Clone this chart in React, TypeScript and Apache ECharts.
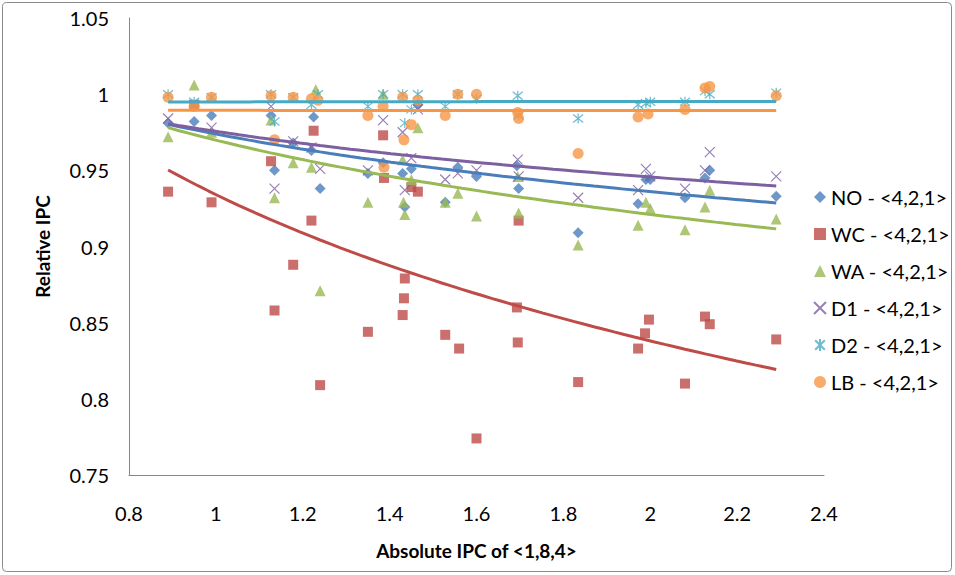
import React, { useEffect, useRef } from "react";
import * as echarts from "echarts";

const FONT = "Lato, 'Open Sans', sans-serif";

const seriesNames = [
  "NO - <4,2,1>",
  "WC - <4,2,1>",
  "WA - <4,2,1>",
  "D1 - <4,2,1>",
  "D2 - <4,2,1>",
  "LB - <4,2,1>",
];
const seriesColors = ["#4A7EBB", "#BE4B48", "#98B954", "#7D60A0", "#46AAC5", "#F79646"];

const noPoints: [number, number][] = [
  [0.89, 0.981], [0.95, 0.982], [0.99, 0.986], [1.127, 0.986], [1.135, 0.95], [1.178, 0.968],
  [1.22, 0.963], [1.225, 0.985], [1.24, 0.938], [1.35, 0.948], [1.385, 0.955], [1.43, 0.948],
  [1.435, 0.926], [1.45, 0.951], [1.465, 0.993], [1.528, 0.929], [1.557, 0.952], [1.6, 0.946],
  [1.693, 0.953], [1.697, 0.938], [1.834, 0.909], [1.972, 0.928], [1.99, 0.944], [2.0, 0.944],
  [2.08, 0.932], [2.126, 0.945], [2.137, 0.95], [2.29, 0.933],
];
const wcPoints: [number, number][] = [
  [0.89, 0.936], [0.95, 0.993], [0.99, 0.929], [1.127, 0.956], [1.135, 0.858], [1.178, 0.888],
  [1.22, 0.917], [1.225, 0.976], [1.24, 0.809], [1.35, 0.844], [1.385, 0.973], [1.387, 0.945],
  [1.43, 0.855], [1.433, 0.866], [1.435, 0.879], [1.45, 0.939], [1.465, 0.936], [1.528, 0.842],
  [1.56, 0.833], [1.6, 0.774], [1.693, 0.86], [1.697, 0.917], [1.695, 0.837], [1.834, 0.811],
  [1.972, 0.833], [1.988, 0.843], [1.997, 0.852], [2.08, 0.81], [2.126, 0.854], [2.137, 0.849],
  [2.29, 0.839],
];
const waPoints: [number, number][] = [
  [0.89, 0.972], [0.95, 1.006], [0.99, 0.975], [1.127, 0.983], [1.135, 0.932], [1.178, 0.955],
  [1.22, 0.952], [1.23, 1.003], [1.24, 0.871], [1.35, 0.929], [1.385, 1.0], [1.43, 0.957],
  [1.432, 0.929], [1.435, 0.921], [1.45, 0.944], [1.465, 0.978], [1.528, 0.929], [1.557, 0.935],
  [1.6, 0.92], [1.695, 0.946], [1.697, 0.922], [1.834, 0.901], [1.972, 0.914], [1.99, 0.929],
  [2.0, 0.925], [2.08, 0.911], [2.126, 0.926], [2.137, 0.937], [2.29, 0.918],
];
const d1Points: [number, number][] = [
  [0.89, 0.984], [0.95, 0.993], [0.99, 0.978], [1.127, 0.992], [1.135, 0.938], [1.178, 0.969],
  [1.22, 0.965], [1.24, 0.951], [1.35, 0.95], [1.385, 0.983], [1.43, 0.975], [1.435, 0.937],
  [1.45, 0.958], [1.465, 0.99], [1.528, 0.944], [1.557, 0.948], [1.6, 0.95], [1.695, 0.957],
  [1.697, 0.946], [1.834, 0.932], [1.972, 0.937], [1.99, 0.951], [2.0, 0.946], [2.08, 0.938],
  [2.126, 0.95], [2.137, 0.962], [2.29, 0.946],
];
const d2Points: [number, number][] = [
  [0.89, 1.0], [0.95, 0.995], [0.99, 0.998], [1.127, 1.0], [1.135, 0.982], [1.178, 0.998],
  [1.22, 0.993], [1.235, 1.0], [1.35, 0.992], [1.385, 1.0], [1.43, 1.0], [1.435, 0.981],
  [1.45, 0.99], [1.465, 1.0], [1.528, 0.992], [1.557, 1.0], [1.6, 0.997], [1.695, 0.999],
  [1.697, 0.986], [1.834, 0.984], [1.972, 0.993], [1.99, 0.994], [2.0, 0.995], [2.08, 0.995],
  [2.126, 1.002], [2.137, 1.0], [2.29, 1.001],
];
const lbPoints: [number, number][] = [
  [0.89, 0.998], [0.95, 0.992], [0.99, 0.998], [1.127, 0.999], [1.135, 0.97], [1.178, 0.998],
  [1.22, 0.997], [1.235, 0.996], [1.35, 0.986], [1.385, 0.992], [1.387, 0.952], [1.43, 0.998],
  [1.433, 0.97], [1.45, 0.98], [1.465, 0.996], [1.528, 0.986], [1.557, 1.0], [1.6, 1.0],
  [1.695, 0.988], [1.697, 0.984], [1.834, 0.961], [1.972, 0.985], [1.995, 0.987], [2.08, 0.99],
  [2.126, 1.004], [2.137, 1.005], [2.29, 0.999],
];

const allPoints = [noPoints, wcPoints, waPoints, d1Points, d2Points, lbPoints];

const CROSS = "path://M0,0L10,10M10,0L0,10";
const STAR = "path://M1,1L9,9M9,1L1,9M5,0L5,10";
const symbols = ["diamond", "rect", "triangle", CROSS, STAR, "circle"];
const symbolSizes = [11, 10, 11, 10, 10, 11];

// Logarithmic trendline (least squares y = a + b ln x), like Excel
function logTrend(points: [number, number][]): [number, number][] {
  const n = points.length;
  let sx = 0, sy = 0, sxx = 0, sxy = 0;
  let xmin = Infinity, xmax = -Infinity;
  for (const [x, y] of points) {
    const lx = Math.log(x);
    sx += lx; sy += y; sxx += lx * lx; sxy += lx * y;
    xmin = Math.min(xmin, x); xmax = Math.max(xmax, x);
  }
  const b = (n * sxy - sx * sy) / (n * sxx - sx * sx);
  const a = (sy - b * sx) / n;
  const out: [number, number][] = [];
  const steps = 60;
  for (let i = 0; i <= steps; i++) {
    const x = xmin + ((xmax - xmin) * i) / steps;
    out.push([x, a + b * Math.log(x)]);
  }
  return out;
}

export default function App() {
  const ref = useRef<HTMLDivElement>(null);
  useEffect(() => {
    if (!ref.current) return;
    const chart = echarts.init(ref.current, undefined, { renderer: "svg" });
    const scatterSeries = allPoints.map((pts, i) => {
      const isLine = i === 3 || i === 4;
      return {
        name: seriesNames[i],
        type: "scatter",
        data: pts,
        symbol: symbols[i],
        symbolSize: symbolSizes[i],
        z: 2 + i,
        itemStyle: isLine
          ? { color: "rgba(0,0,0,0)", borderColor: seriesColors[i], borderWidth: 1.2 }
          : { color: seriesColors[i] },
      };
    });
    const trendSeries = allPoints.map((pts, i) => ({
      name: "trend" + i,
      type: "line",
      data: logTrend(pts),
      showSymbol: false,
      smooth: false,
      z: 20,
      lineStyle: { color: seriesColors[i], width: 3 },
      silent: true,
    }));
    chart.setOption({
      animation: false,
      backgroundColor: "#ffffff",
      grid: { left: 129, right: 131, top: 18, bottom: 100 },
      graphic: [
        {
          type: "rect",
          shape: { x: 2.5, y: 2.5, width: 949, height: 569, r: 4 },
          style: { fill: "none", stroke: "#8a8a8a", lineWidth: 1 },
          silent: true,
        },
      ],
      legend: {
        orient: "vertical",
        left: 808,
        top: 182,
        itemGap: 17,
        itemWidth: 12,
        itemHeight: 12,
        textStyle: { fontSize: 20, fontFamily: FONT, color: "#000", padding: [0, 0, 0, 0] },
        data: seriesNames.map((n) => ({ name: n })),
      },
      xAxis: {
        type: "value",
        min: 0.8,
        max: 2.4,
        interval: 0.2,
        name: "Absolute IPC of <1,8,4>",
        nameLocation: "middle",
        nameGap: 66,
        nameTextStyle: { fontSize: 19, fontWeight: "bold", fontFamily: FONT, color: "#000" },
        axisLine: { show: true, onZero: false, lineStyle: { color: "#868686", width: 1 } },
        axisTick: { show: false },
        splitLine: { show: false },
        axisLabel: { fontSize: 20, fontFamily: FONT, color: "#000", margin: 28 },
      },
      yAxis: {
        type: "value",
        min: 0.75,
        max: 1.05,
        interval: 0.05,
        name: "Relative IPC",
        nameLocation: "middle",
        nameGap: 77,
        nameTextStyle: { fontSize: 19, fontWeight: "bold", fontFamily: FONT, color: "#000" },
        axisLine: { show: true, lineStyle: { color: "#868686", width: 1 } },
        axisTick: { show: false },
        splitLine: { show: false },
        axisLabel: { fontSize: 20, fontFamily: FONT, color: "#000", margin: 20 },
      },
      series: [...scatterSeries, ...trendSeries],
    });
    return () => chart.dispose();
  }, []);
  return (
    <div
      ref={ref}
      style={{ position: "fixed", left: 0, top: 0, width: 955, height: 575, background: "#fff" }}
    />
  );
}
